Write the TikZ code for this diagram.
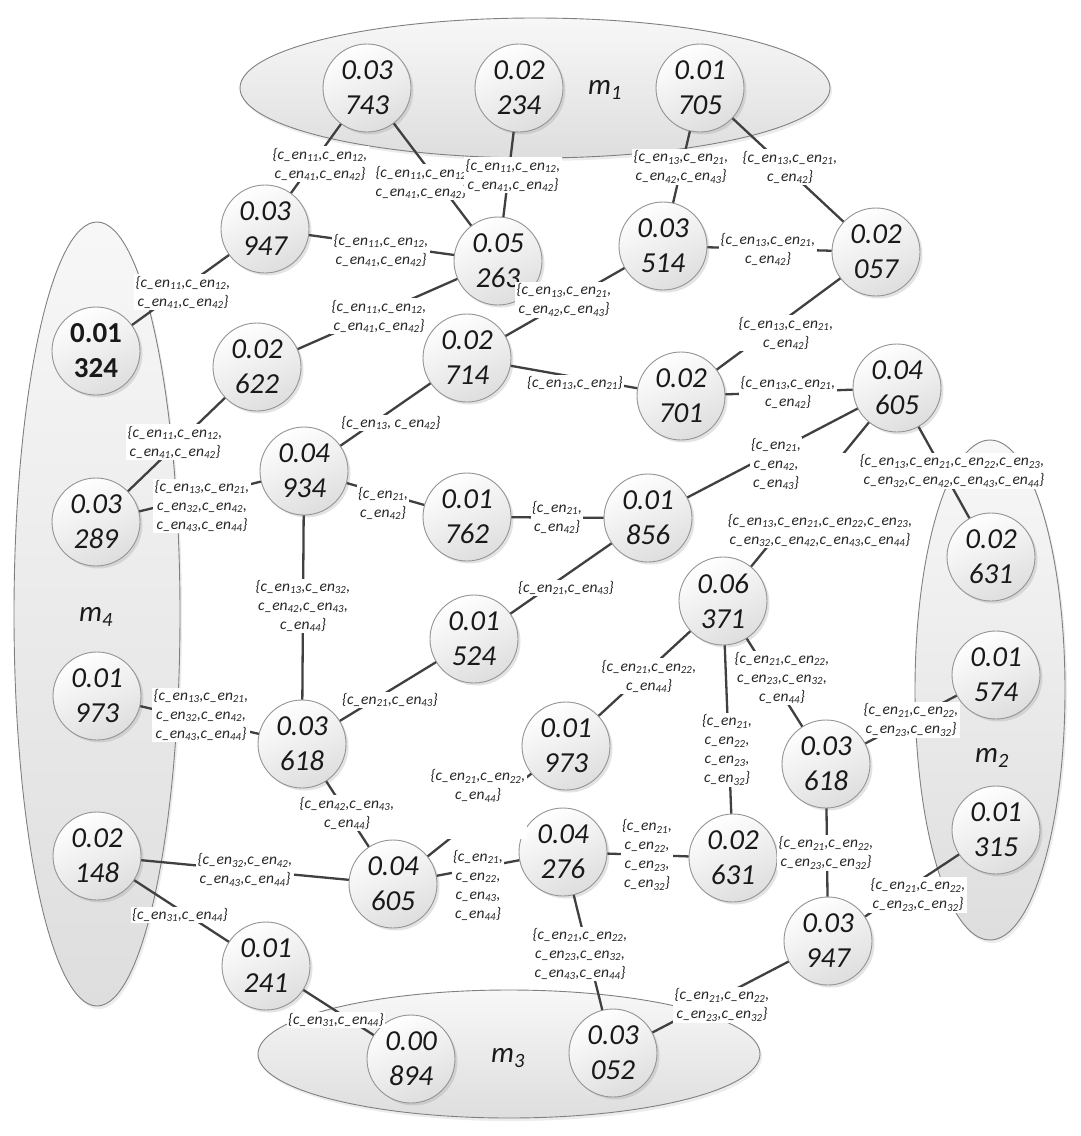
\documentclass[tikz,border=0pt]{standalone}
\usepackage{fontspec}
\setmainfont{Carlito}
\usetikzlibrary{shapes.geometric,shadows}
\newcommand\cen[1]{c\_en\textsubscript{#1}}
\begin{document}
\begin{tikzpicture}[x=1pt,y=-1pt,
  grp/.style={ellipse,inner sep=0pt,draw=black!50,line width=0.9pt,
    top color=black!3,bottom color=black!13,
    drop shadow={shadow xshift=2pt,shadow yshift=-3pt,opacity=0.15}},
  nd/.style={circle,minimum size=88pt,inner sep=0pt,draw=black!42,line width=0.9pt,
    top color=white,bottom color=black!13,shading angle=25,
    drop shadow={shadow xshift=2.5pt,shadow yshift=-2.5pt,opacity=0.22},
    align=center,font=\fontsize{29}{35}\selectfont\itshape,text=black!90},
  ndu/.style={nd,font=\fontsize{29}{35}\selectfont\bfseries},
  edge/.style={draw=black!75,line width=2.3pt},
  lab/.style={fill=white,inner sep=1.5pt,align=center,text=black!85,
    font=\fontsize{15.5}{19}\selectfont\itshape},
  mlab/.style={font=\fontsize{29}{35}\selectfont\itshape,text=black!90}]
\fill[white] (0,0) rectangle (1080,1136);
\useasboundingbox (0,0) rectangle (1080,1136);
% group ellipses
\node[grp,minimum width=590pt,minimum height=140pt] (g1) at (535,88) {};
\node[grp,minimum width=166pt,minimum height=784pt] (g4) at (97,614) {};
\node[grp,minimum width=150pt,minimum height=500pt] (g2) at (990,690) {};
\node[grp,minimum width=502pt,minimum height=128pt] (g3) at (509,1054) {};
\node[mlab] (m1) at (605,90) {m\textsubscript{1}};
\node[mlab] (m4) at (96,617) {m\textsubscript{4}};
\node[mlab] (m2) at (992,758) {m\textsubscript{2}};
\node[mlab] (m3) at (508,1058) {m\textsubscript{3}};
% nodes
\node[nd] (n743) at (367,88) {0.03\\743};
\node[nd] (n234) at (519,88) {0.02\\234};
\node[nd] (n705) at (700,88) {0.01\\705};
\node[nd] (n947a) at (265,229) {0.03\\947};
\node[nd] (n263) at (498,261) {0.05\\263};
\node[nd] (n514) at (663,246) {0.03\\514};
\node[nd] (n057) at (876,252) {0.02\\057};
\node[ndu] (n324) at (96,351) {0.01\\324};
\node[nd] (n622) at (257,367) {0.02\\622};
\node[nd] (n714) at (467,358) {0.02\\714};
\node[nd] (n701) at (681,396) {0.02\\701};
\node[nd] (n605a) at (897,388) {0.04\\605};
\node[nd] (n934) at (304,471) {0.04\\934};
\node[nd] (n762) at (467,517) {0.01\\762};
\node[nd] (n856) at (648,518) {0.01\\856};
\node[nd] (n289) at (96,522) {0.03\\289};
\node[nd] (n631a) at (991,557) {0.02\\631};
\node[nd] (n371) at (723,601) {0.06\\371};
\node[nd] (n524) at (474,639) {0.01\\524};
\node[nd] (n973a) at (97,696) {0.01\\973};
\node[nd] (n574) at (996,675) {0.01\\574};
\node[nd] (n618a) at (302,744) {0.03\\618};
\node[nd] (n973b) at (566,746) {0.01\\973};
\node[nd] (n618b) at (826,764) {0.03\\618};
\node[nd] (n315) at (996,830) {0.01\\315};
\node[nd] (n148) at (97,856) {0.02\\148};
\node[nd] (n605b) at (393,884) {0.04\\605};
\node[nd] (n276) at (563,852) {0.04\\276};
\node[nd] (n631b) at (733,858) {0.02\\631};
\node[nd] (n947b) at (828,941) {0.03\\947};
\node[nd] (n241) at (266,966) {0.01\\241};
\node[nd] (n894) at (411,1059) {0.00\\894};
\node[nd] (n052) at (613,1053) {0.03\\052};
% connectors
\draw[edge] (n743) -- (n947a);
\draw[edge] (n743) -- (n263);
\draw[edge] (n234) -- (n263);
\draw[edge] (n705) -- (n514);
\draw[edge] (n705) -- (n057);
\draw[edge] (n947a) -- (n263);
\draw[edge] (n947a) -- (n324);
\draw[edge] (n514) -- (n057);
\draw[edge] (n263) -- (n622);
\draw[edge] (n514) -- (n714);
\draw[edge] (n057) -- (n701);
\draw[edge] (n714) -- (n701);
\draw[edge] (n701) -- (n605a);
\draw[edge] (n714) -- (n934);
\draw[edge] (n622) -- (n289);
\draw[edge] (n934) -- (n289);
\draw[edge] (n934) -- (n762);
\draw[edge] (n762) -- (n856);
\draw[edge] (n856) -- (n605a);
\draw[edge] (n605a) -- (n631a);
\draw[edge] (n605a) -- (n371);
\draw[edge] (n856) -- (n524);
\draw[edge] (n934) -- (n618a);
\draw[edge] (n524) -- (n618a);
\draw[edge] (n973a) -- (n618a);
\draw[edge] (n371) -- (n973b);
\draw[edge] (n371) -- (n631b);
\draw[edge] (n371) -- (n618b);
\draw[edge] (n618b) -- (n574);
\draw[edge] (n973b) -- (n605b);
\draw[edge] (n618a) -- (n605b);
\draw[edge] (n148) -- (n605b);
\draw[edge] (n605b) -- (n276);
\draw[edge] (n276) -- (n631b);
\draw[edge] (n618b) -- (n947b);
\draw[edge] (n947b) -- (n315);
\draw[edge] (n276) -- (n052);
\draw[edge] (n947b) -- (n052);
\draw[edge] (n148) -- (n241);
\draw[edge] (n241) -- (n894);
% labels
\node[lab] (l1) at (320,164) {\{\cen{11},\cen{12},\\\cen{41},\cen{42}\}};
\node[lab] (l2) at (421,182) {\{\cen{11},\cen{12}\\\cen{41},\cen{42}\}};
\node[lab] (l3) at (513,175) {\{\cen{11},\cen{12},\\\cen{41},\cen{42}\}};
\node[lab] (l4) at (681,167) {\{\cen{13},\cen{21},\\\cen{42},\cen{43}\}};
\node[lab] (l5) at (790,167) {\{\cen{13},\cen{21},\\\cen{42}\}};
\node[lab] (l6) at (381,250) {\{\cen{11},\cen{12},\\\cen{41},\cen{42}\}};
\node[lab] (l7) at (183,292) {\{\cen{11},\cen{12},\\\cen{41},\cen{42}\}};
\node[lab] (l8) at (768,249) {\{\cen{13},\cen{21},\\\cen{42}\}};
\node[lab] (l9) at (379,316) {\{\cen{11},\cen{12},\\\cen{41},\cen{42}\}};
\node[lab] (l10) at (564,300) {\{\cen{13},\cen{21},\\\cen{42},\cen{43}\}};
\node[lab] (l11) at (786,333) {\{\cen{13},\cen{21},\\\cen{42}\}};
\node[lab] (l12) at (575,383) {\{\cen{13},\cen{21}\}};
\node[lab] (l13) at (788,392) {\{\cen{13},\cen{21},\\\cen{42}\}};
\node[lab] (l14) at (391,423) {\{\cen{13}, \cen{42}\}};
\node[lab] (l15) at (175,442) {\{\cen{11},\cen{12},\\\cen{41},\cen{42}\}};
\node[lab] (l16) at (202,506) {\{\cen{13},\cen{21},\\\cen{32},\cen{42},\\\cen{43},\cen{44}\}};
\node[lab] (l17) at (383,503) {\{\cen{21},\\\cen{42}\}};
\node[lab] (l18) at (557,517) {\{\cen{21},\\\cen{42}\}};
\node[lab,anchor=south] (l21) at (820,548) {\rule{0pt}{22pt}\\\{\cen{13},\cen{21},\cen{22},\cen{23},\\\cen{32},\cen{42},\cen{43},\cen{44}\}};
\node[lab] (l19) at (776,464) {\{\cen{21},\\\cen{42},\\\cen{43}\}};
\node[lab,anchor=east,text width=234pt,align=right] (l20) at (1046,471) {\{\cen{13},\cen{21},\cen{22},\cen{23},\\\cen{32},\cen{42},\cen{43},\cen{44}\}};
\node[lab] (l22) at (566,588) {\{\cen{21},\cen{43}\}};
\node[lab] (l23) at (303,606) {\{\cen{13},\cen{32},\\\cen{42},\cen{43},\\\cen{44}\}};
\node[lab] (l24) at (390,700) {\{\cen{21},\cen{43}\}};
\node[lab] (l25) at (201,715) {\{\cen{13},\cen{21},\\\cen{32},\cen{42},\\\cen{43},\cen{44}\}};
\node[lab] (l26) at (649,676) {\{\cen{21},\cen{22},\\\cen{44}\}};
\node[lab] (l27) at (727,750) {\{\cen{21},\\\cen{22},\\\cen{23},\\\cen{32}\}};
\node[lab] (l28) at (782,678) {\{\cen{21},\cen{22},\\\cen{23},\cen{32},\\\cen{44}\}};
\node[lab] (l29) at (911,720) {\{\cen{21},\cen{22},\\\cen{23},\cen{32}\}};
\node[lab,anchor=north] (l30) at (478,768) {\{\cen{21},\cen{22},\\\cen{44}\}\\\rule{0pt}{34pt}};
\node[lab] (l31) at (347,813) {\{\cen{42},\cen{43},\\\cen{44}\}};
\node[lab] (l32) at (245,870) {\{\cen{32},\cen{42},\\\cen{43},\cen{44}\}};
\node[lab] (l33) at (478,885) {\{\cen{21},\\\cen{22},\\\cen{43},\\\cen{44}\}};
\node[lab] (l34) at (647,855) {\{\cen{21},\\\cen{22},\\\cen{23},\\\cen{32}\}};
\node[lab] (l35) at (826,853) {\{\cen{21},\cen{22},\\\cen{23},\cen{32}\}};
\node[lab] (l36) at (918,895) {\{\cen{21},\cen{22},\\\cen{23},\cen{32}\}};
\node[lab] (l37) at (580,954) {\{\cen{21},\cen{22},\\\cen{23},\cen{32},\\\cen{43},\cen{44}\}};
\node[lab] (l38) at (722,1005) {\{\cen{21},\cen{22},\\\cen{23},\cen{32}\}};
\node[lab] (l39) at (180,915) {\{\cen{31},\cen{44}\}};
\node[lab] (l40) at (336,1020) {\{\cen{31},\cen{44}\}};
\end{tikzpicture}
\end{document}
